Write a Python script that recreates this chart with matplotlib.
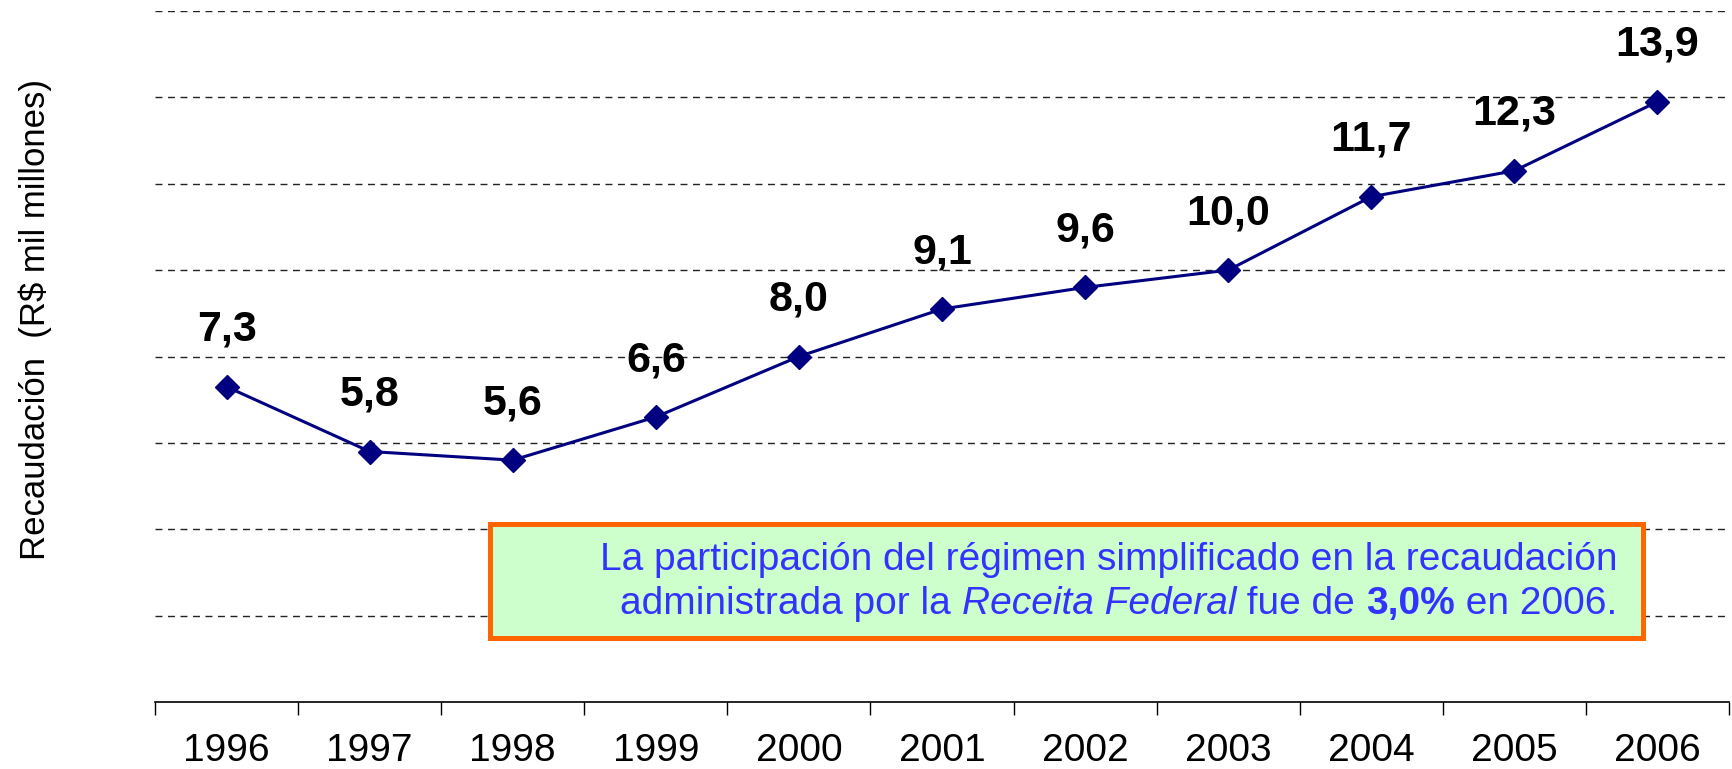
import matplotlib.pyplot as plt
from matplotlib.patches import Rectangle
from matplotlib.text import Annotation
from matplotlib.ticker import FixedLocator

years = ['1996', '1997', '1998', '1999', '2000', '2001', '2002', '2003', '2004', '2005', '2006']
recaudacion = [7.3, 5.8, 5.6, 6.6, 8.0, 9.1, 9.6, 10.0, 11.7, 12.3, 13.9]
y_title = 'Recaudación  (R$ mil millones)'
note_line1 = 'La participación del régimen simplificado en la recaudación'
note_parts2 = [('administrada por la ', 'normal', 'normal'),
               ('Receita Federal', 'italic', 'normal'),
               (' fue de ', 'normal', 'normal'),
               ('3,0%', 'normal', 'bold'),
               (' en 2006.', 'normal', 'normal')]

plt.rcParams['font.family'] = ['Liberation Sans', 'DejaVu Sans']

W, H = 1732, 769
fig = plt.figure(figsize=(W / 100, H / 100), dpi=100)
ax = fig.add_axes([155 / W, 67 / H, (1729 - 155) / W, (702 - 11) / H])

x = list(range(len(years)))
ax.plot(x, recaudacion, color='#000080', lw=2.2, marker='D', ms=12,
        mfc='#000080', mec='#000080', zorder=3, clip_on=False)

for xi, v in zip(x, recaudacion):
    ax.annotate(f'{v:.1f}'.replace('.', ','), (xi, v), xytext=(0, 41),
                textcoords='offset points', ha='center', va='center',
                fontsize=31, fontweight='bold', color='black')

ax.set_xlim(-0.5, len(years) - 0.5)
ax.set_ylim(0, 16)
ax.set_yticks(range(2, 17, 2))
ax.yaxis.grid(True, ls=(0, (5, 4)), color='#222222', lw=1)
ax.tick_params(axis='y', left=False, labelleft=False)

ax.set_xticks(x)
ax.set_xticklabels(years, fontsize=28)
ax.xaxis.set_minor_locator(FixedLocator([i - 0.5 for i in range(len(years) + 1)]))
ax.tick_params(axis='x', which='major', length=0, pad=22)
ax.tick_params(axis='x', which='minor', length=9, width=1, color='black')

for s in ['left', 'right', 'top']:
    ax.spines[s].set_visible(False)
ax.spines['bottom'].set_linewidth(1.2)

fig.text(35 / W, 1 - 320 / H, y_title, rotation=90, ha='center', va='center', fontsize=25)

# note box
fig.add_artist(Rectangle((490 / W, 1 - 638 / H), (1643 - 490) / W, (638 - 524) / H,
                         transform=fig.transFigure, facecolor='#CCFFCC',
                         edgecolor='#FF6600', lw=3.6, zorder=4))
blue = '#3333FF'
fs = 28
fig.text(1617 / W, 1 - 560 / H, note_line1, ha='right', va='center',
         color=blue, fontsize=fs, zorder=5)

prev = None
for txt, style, weight in reversed(note_parts2):
    if prev is None:
        prev = fig.text(1617 / W, 1 - 604 / H, txt, ha='right', va='center',
                        color=blue, fontsize=fs, style=style, weight=weight, zorder=5)
    else:
        prev = fig.add_artist(Annotation(txt, xy=(0, 0.5), xycoords=prev,
                                         ha='right', va='center', color=blue,
                                         fontsize=fs, style=style, weight=weight,
                                         zorder=5, annotation_clip=False))

fig.savefig('out.png', dpi=100)
